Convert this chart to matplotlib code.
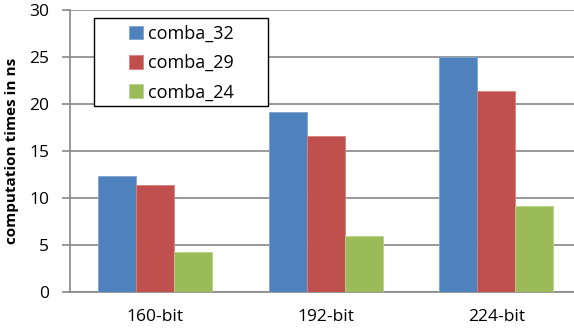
import matplotlib.pyplot as plt
from matplotlib.patches import Rectangle
import numpy as np

plt.rcParams['font.family'] = ['Open Sans', 'DejaVu Sans']

sizes = ['160-bit', '192-bit', '224-bit']
series = ['comba_32', 'comba_29', 'comba_24']
comba_32 = [12.3, 19.1, 25.0]
comba_29 = [11.4, 16.6, 21.4]
comba_24 = [4.3, 6.0, 9.2]
colors = ['#4F81BD', '#C0504D', '#9BBB59']
edges = ['#7FA3D3', '#D88280', '#B9D28A']

fig = plt.figure(figsize=(5.74, 3.33), dpi=100)
# plot area runs slightly past the right edge of the figure
ax = fig.add_axes([70/574, 41/333, 511.5/574, 282/333])

x = np.arange(len(sizes))
w = 0.223
for i, (vals, name) in enumerate(zip([comba_32, comba_29, comba_24], series)):
    ax.bar(x + (i - 1) * w, vals, w, color=colors[i], edgecolor=edges[i],
           linewidth=0.6, label=name, zorder=3)

ax.set_xlim(-0.5, 2.5)
ax.set_ylim(0, 30)
ax.set_yticks(range(0, 31, 5))
ax.set_xticks(x)
ax.set_xticklabels(sizes)
ax.grid(axis='y', color='#878787', linewidth=1.2, zorder=0)
for s in ['top', 'right']:
    ax.spines[s].set_visible(False)
for s in ['left', 'bottom']:
    ax.spines[s].set_color('#878787')
    ax.spines[s].set_linewidth(1.2)
ax.tick_params(axis='y', length=6, width=1.2, color='#878787', labelsize=12.5, pad=9)
ax.tick_params(axis='x', length=0, labelsize=12.5, pad=12)
ax.set_ylabel('computation times in ns', fontsize=11, fontweight='bold', labelpad=7)

# legend frame drawn by hand, entries placed inside it
frame = Rectangle((24/511.5, 1 - 96/282), 174/511.5, 88/282, transform=ax.transAxes,
                  facecolor='white', edgecolor='black', linewidth=1.0, zorder=5)
ax.add_patch(frame)
leg = ax.legend(loc='upper left', bbox_to_anchor=(59/511.5, 1 - 15/282), fontsize=13,
                frameon=False, handlelength=0.75, handleheight=0.75, handletextpad=0.3,
                borderpad=0, labelspacing=0.62, borderaxespad=0)
leg.set_zorder(6)

fig.savefig('out.png', dpi=100)
